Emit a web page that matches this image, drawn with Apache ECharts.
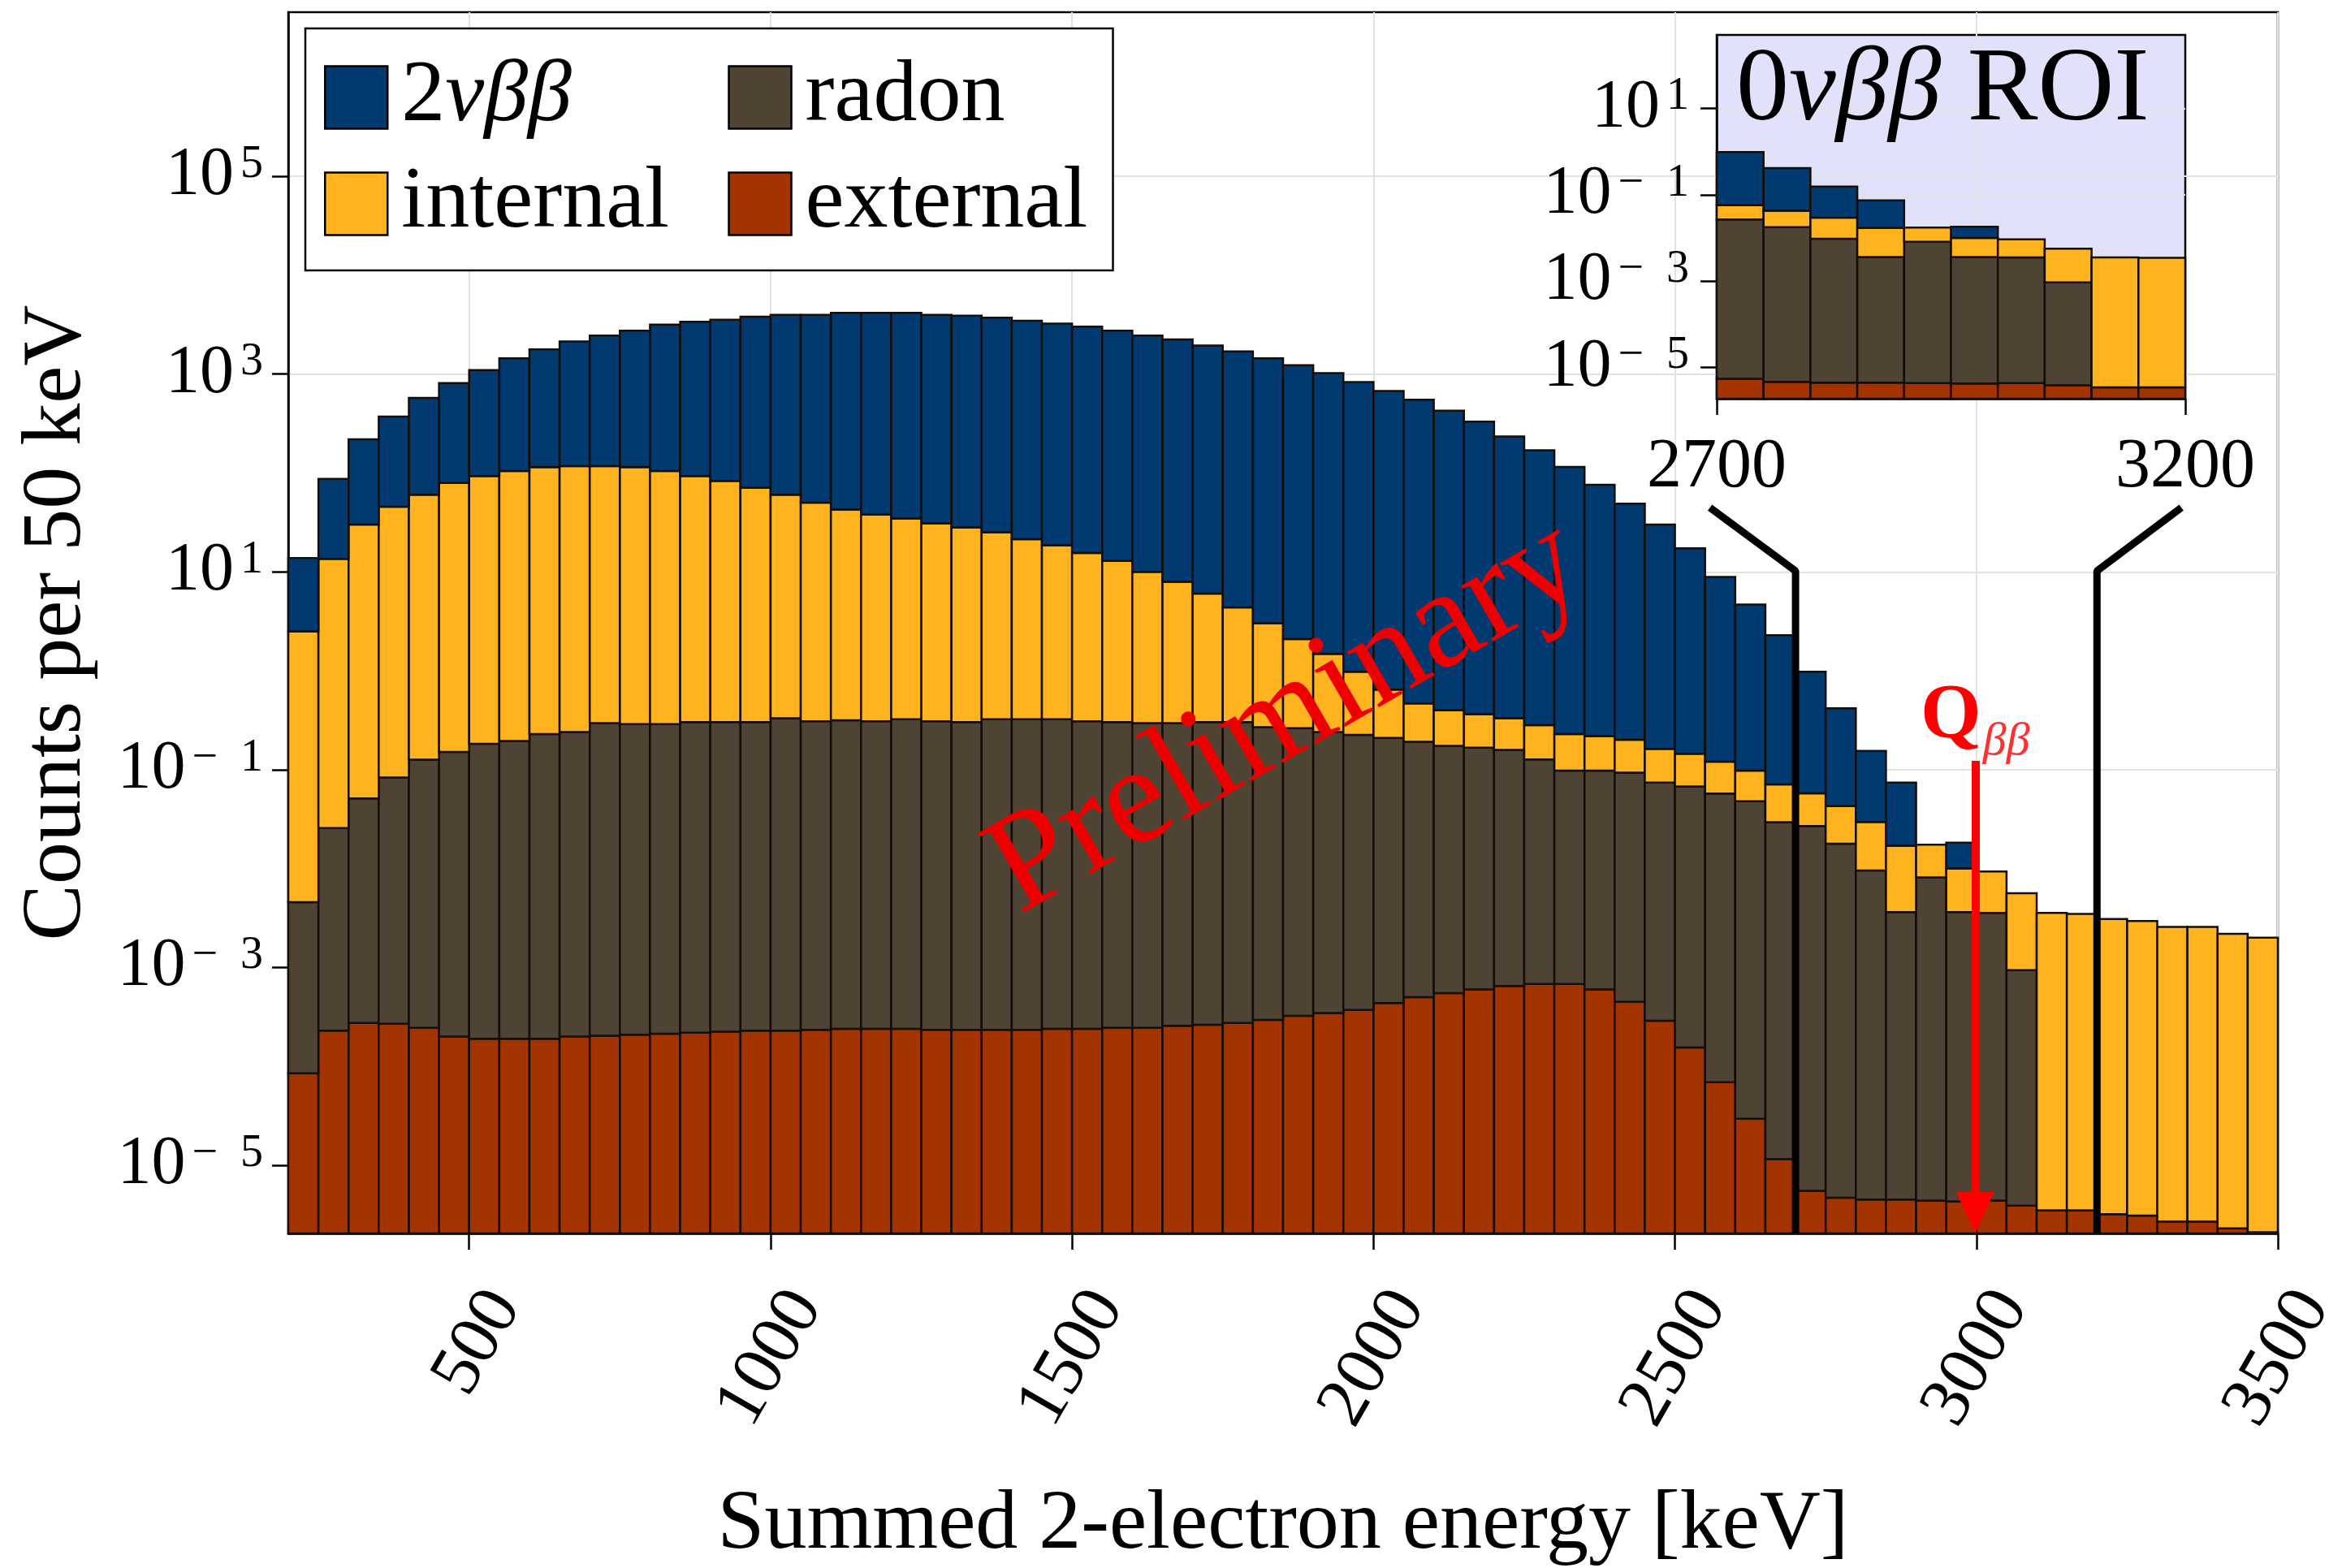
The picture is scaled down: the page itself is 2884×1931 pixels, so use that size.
<!DOCTYPE html>
<html><head><meta charset="utf-8">
<script src="https://cdn.jsdelivr.net/npm/echarts@6/dist/echarts.min.js"></script>
<style>html,body{margin:0;padding:0;background:#fff}#c{width:2884px;height:1931px}</style>
</head><body><div id="c"></div>
<script>
// ---------------- data (counts per 50 keV bin) ----------------
const binStart = [200,250,300,350,400,450,500,550,600,650,700,750,800,850,900,950,1000,1050,1100,1150,1200,1250,1300,1350,1400,1450,1500,1550,1600,1650,1700,1750,1800,1850,1900,1950,2000,2050,2100,2150,2200,2250,2300,2350,2400,2450,2500,2550,2600,2650,2700,2750,2800,2850,2900,2950,3000,3050,3100,3150,3200,3250,3300,3350,3400,3450];
const binWidth = 50;
const externalCounts = [8.5e-5,2.3e-4,2.75e-4,2.7e-4,2.45e-4,2.0e-4,1.9e-4,1.9e-4,1.9e-4,2.0e-4,
  2.04e-4,2.09e-4,2.14e-4,2.19e-4,2.24e-4,2.29e-4,2.29e-4,2.34e-4,2.4e-4,2.4e-4,
  2.4e-4,2.34e-4,2.34e-4,2.34e-4,2.34e-4,2.4e-4,2.4e-4,2.45e-4,2.45e-4,2.57e-4,
  2.63e-4,2.75e-4,2.95e-4,3.24e-4,3.47e-4,3.72e-4,4.37e-4,5.0e-4,5.5e-4,6.0e-4,
  6.5e-4,6.8e-4,6.8e-4,6.0e-4,4.5e-4,2.9e-4,1.55e-4,6.9e-5,2.95e-5,1.15e-5,
  5.5e-6,4.7e-6,4.5e-6,4.5e-6,4.4e-6,4.3e-6,4.4e-6,3.9e-6,3.5e-6,3.5e-6,
  3.2e-6,3.1e-6,2.7e-6,2.7e-6,2.3e-6,2.1e-6];
const radonCounts = [0.00449,0.0255,0.0510,0.0829,0.126,0.151,0.182,0.195,0.229,0.240,
  0.295,0.288,0.288,0.302,0.302,0.302,0.331,0.309,0.316,0.309,
  0.324,0.309,0.302,0.324,0.324,0.324,0.309,0.302,0.295,0.295,
  0.302,0.302,0.269,0.263,0.240,0.224,0.209,0.191,0.174,0.166,
  0.158,0.126,0.0971,0.0971,0.0929,0.0738,0.0674,0.0574,0.0479,0.0295,
  0.0269,0.0178,0.00955,0.00363,0.00813,0.00363,0.00355,0.000933,null,null,
  null,null,null,null,null,null];
const internalCounts = [2.5,13.5,30.1,45.6,60.2,79.2,93.1,104.5,114.6,117.2,
  117.2,114.5,104.4,93.0,82.9,70.5,60.0,49.8,42.4,37.7,
  34.4,30.6,27.9,24.8,21.1,18.3,15.2,12.6,9.70,7.65,
  5.73,4.07,2.75,1.83,1.24,0.753,0.437,0.277,0.224,0.197,
  0.173,0.156,0.131,0.121,0.107,0.088,0.077,0.063,0.050,0.0413,
  0.0306,0.0249,0.020,0.0134,0.0093,0.0064,0.00578,0.00469,0.00355,0.00347,
  0.00309,0.00295,0.00257,0.00257,0.00219,0.00200];
const twoNuCounts = [11.3,73.6,189,326,515,734,1003,1340,1663,2020,
  2337,2639,3057,3295,3465,3731,3921,3931,4126,4131,
  4134,3950,3862,3690,3446,3217,3005,2741,2445,2231,
  1944,1694,1442,1228,1022,831,675,549.5,426.6,330.6,
  233.7,169.7,114.8,75.7,48.8,30.0,17.2,8.79,4.58,2.22,
  0.919,0.374,0.125,0.0571,null,0.0082,null,null,null,null,
  null,null,null,null,null,null];
const seriesNames = ['external','radon','internal','2νββ'];
const xTickValues = [500,1000,1500,2000,2500,3000,3500];
const yTickExponents = [-5,-3,-1,1,3,5];
const insetYTickExponents = [-5,-3,-1,1];
const roiBounds = [2700,3200];
const qbbValue = 2998;

// ---------------- styling ----------------
const FONT = "'Liberation Serif', serif";
const colors = {'external':'#a33400','radon':'#4f4334','internal':'#ffb41f','2νββ':'#003a70'};
const MAIN_Y = [-5.69, 6.66];
const INSET_Y = [-5.72, 2.70];

const compArrays = [externalCounts, radonCounts, internalCounts, twoNuCounts];
function buildSegments(floor, keep) {
  const out = seriesNames.map(() => []);
  for (let i = 0; i < binStart.length; i++) {
    const x0 = binStart[i], x1 = binStart[i] + binWidth;
    if (!keep(x0, x1)) continue;
    let cum = 0, lo = floor;
    compArrays.forEach((arr, k) => {
      const v = arr[i];
      if (v == null || !(v > 0)) return;
      cum += v;
      const hi = Math.log10(cum);
      out[k].push([x0, x1, lo, hi]);
      lo = hi;
    });
  }
  return out;
}
const mainSegs = buildSegments(MAIN_Y[0], () => true);
const insetSegs = buildSegments(INSET_Y[0], (a, b) => a >= roiBounds[0] && b <= roiBounds[1]);

function renderBar(params, api) {
  const p0 = api.coord([api.value(0), api.value(3)]);
  const p1 = api.coord([api.value(1), api.value(2)]);
  return {type:'rect', shape:{x:p0[0], y:p0[1], width:p1[0]-p0[0], height:p1[1]-p0[1]},
    style:{fill:api.visual('color'), stroke:'#150e08', lineWidth:2.5}};
}
function barSeries(segs, gi) {
  return seriesNames.map((n, k) => ({
    type:'custom', name:n, xAxisIndex:gi, yAxisIndex:gi, renderItem:renderBar,
    itemStyle:{color:colors[n]}, encode:{x:[0,1], y:[2,3]}, data:segs[k], z:2, silent:true
  }));
}
function expLabel(v) {
  const n = Math.round(v);
  return n < 0 ? '{b|10}{s|−  ' + (-n) + '}' : '{b|10}{s|' + n + '}';
}
const plainNum = v => String(Math.round(v));
const tickRich = {
  b:{fontSize:84, fontFamily:FONT, color:'#000'},
  s:{fontSize:56, fontFamily:FONT, color:'#000', verticalAlign:'top', padding:[0,0,0,8]}
};
const gridLine = {show:true, lineStyle:{color:'#e2e2e2', width:2}};
const axisBlack = {show:true, onZero:false, lineStyle:{color:'#000', width:2.5}};

const option = {
  animation:false,
  backgroundColor:'#fff',
  grid:[
    {left:355, top:15, width:2450, height:1504, show:true, borderColor:'#000', borderWidth:2.5, containLabel:false, outerBoundsMode:'none'},
    {left:2114, top:43, width:577, height:448, show:true, borderColor:'#000', borderWidth:2.5, backgroundColor:'rgba(200,200,250,0.55)', containLabel:false, outerBoundsMode:'none'}
  ],
  xAxis:[
    {gridIndex:0, type:'value', min:200, max:3500,
     axisLine:axisBlack,
     axisTick:{show:true, inside:false, length:20, customValues:xTickValues, lineStyle:{color:'#000', width:2.5}},
     axisLabel:{show:true, customValues:xTickValues, formatter:plainNum, rotate:60, align:'right', verticalAlign:'top', lineHeight:102, margin:52,
       fontSize:88, fontFamily:FONT, color:'#000'},
     splitLine:gridLine,
     name:'Summed 2-electron energy [keV]', nameLocation:'middle', nameGap:308,
     nameTextStyle:{fontSize:104, fontFamily:FONT, color:'#000'}},
    {gridIndex:1, type:'value', min:roiBounds[0], max:roiBounds[1],
     axisLine:axisBlack,
     axisTick:{show:true, inside:false, length:20, customValues:roiBounds, lineStyle:{color:'#000', width:2.5}},
     axisLabel:{show:true, customValues:roiBounds, formatter:plainNum, margin:42, fontSize:86, fontFamily:FONT, color:'#000'},
     splitLine:{show:false}}
  ],
  yAxis:[
    {gridIndex:0, type:'value', min:MAIN_Y[0], max:MAIN_Y[1],
     axisLine:axisBlack,
     axisTick:{show:true, inside:false, length:20, customValues:yTickExponents, lineStyle:{color:'#000', width:2.5}},
     axisLabel:{show:true, customValues:yTickExponents, formatter:expLabel, margin:31, rich:tickRich},
     splitLine:gridLine,
     name:'Counts per 50 keV', nameLocation:'middle', nameGap:232, nameRotate:90,
     nameTextStyle:{fontSize:104, fontFamily:FONT, color:'#000'}},
    {gridIndex:1, type:'value', min:INSET_Y[0], max:INSET_Y[1],
     axisLine:axisBlack,
     axisTick:{show:true, inside:false, length:20, customValues:insetYTickExponents, lineStyle:{color:'#000', width:2.5}},
     axisLabel:{show:true, customValues:insetYTickExponents, formatter:expLabel, margin:34, rich:tickRich},
     splitLine:gridLine}
  ],
  legend:{
    data:['2νββ','radon','internal','external'], selectedMode:false,
    left:376, top:35, width:1000, orient:'horizontal',
    itemWidth:77, itemHeight:77, itemGap:23, padding:[31,0,28,23],
    backgroundColor:'#fff', borderColor:'#000', borderWidth:2.5, borderRadius:0,
    icon:'rect', itemStyle:{borderColor:'#000', borderWidth:2.5},
    formatter: n => n === '2νββ' ? '{n|2}{i|νββ}' : '{n|' + n + '}',
    textStyle:{fontSize:108, fontFamily:FONT, color:'#000', width:379, height:77, padding:[0,0,0,12], lineHeight:77,
      rich:{n:{fontSize:108, fontFamily:FONT, color:'#000', lineHeight:77, height:77},
            i:{fontSize:108, fontFamily:FONT, fontStyle:'italic', color:'#000', lineHeight:77, height:77}}}
  },
  graphic:[
    {type:'text', x:2138, y:48, z:20,
     style:{text:'0{i|νββ} ROI', fontSize:130, fontFamily:FONT, fill:'#000',
       rich:{i:{fontSize:130, fontFamily:FONT, fontStyle:'italic', fill:'#000'}}}},
    {type:'text', x:1585, y:884, rotation:30*Math.PI/180, z:30, silent:true,
     style:{text:'Preliminary', fontSize:172, fontFamily:FONT, fill:'#ee0000', align:'center', verticalAlign:'middle'}}
  ],
  series:[
    ...barSeries(mainSegs, 0),
    ...barSeries(insetSegs, 1),
    {type:'line', name:'roiLow', xAxisIndex:0, yAxisIndex:0, symbol:'none', z:6, silent:true,
     lineStyle:{color:'#000', width:9}, data:[[2558, 1.65],[roiBounds[0], 1.01],[roiBounds[0], MAIN_Y[0]]]},
    {type:'line', name:'roiHigh', xAxisIndex:0, yAxisIndex:0, symbol:'none', z:6, silent:true,
     lineStyle:{color:'#000', width:9}, data:[[3340, 1.65],[roiBounds[1], 1.01],[roiBounds[1], MAIN_Y[0]]]},
    {type:'line', name:'qbb', xAxisIndex:0, yAxisIndex:0, data:[], z:7, silent:true,
     markLine:{silent:true, symbol:['none','triangle'], symbolSize:[47,51], animation:false,
       lineStyle:{color:'#ff0000', width:10, type:'solid'},
       label:{show:true, position:'start', distance:6, formatter:'{q|Q}{b|ββ}',
         rich:{q:{fontSize:96, fontWeight:'bold', fontFamily:FONT, color:'#ff0000'},
               b:{fontSize:58, fontStyle:'italic', fontFamily:FONT, color:'#ff3030', verticalAlign:'bottom', padding:[0,0,-12,2]}}},
       data:[[{coord:[qbbValue, -0.91]}, {coord:[qbbValue, -5.48]}]]}}
  ]
};
const chart = echarts.init(document.getElementById('c'), null, {renderer:'canvas'});
chart.setOption(option);
</script></body></html>
